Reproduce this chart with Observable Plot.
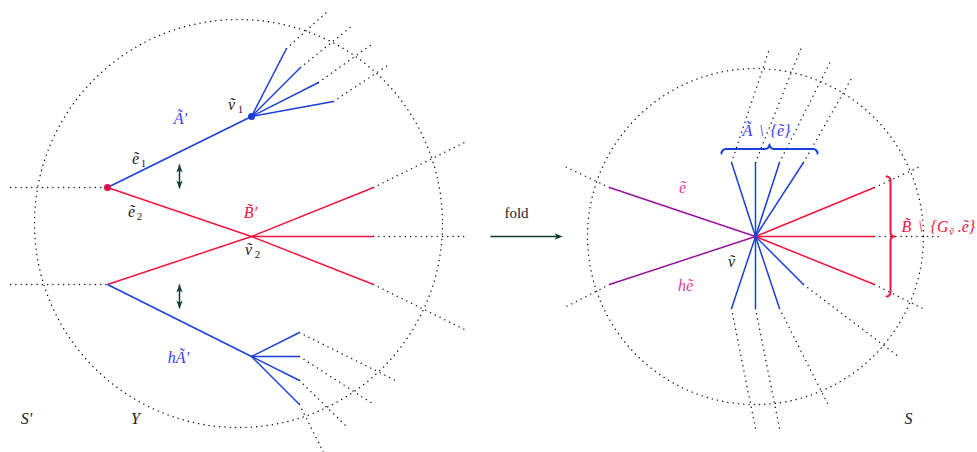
<!DOCTYPE html>
<html><head><meta charset="utf-8">
<script src="https://cdn.jsdelivr.net/npm/d3@7"></script>
<script src="https://cdn.jsdelivr.net/npm/@observablehq/plot@0.6"></script>
<style>body{margin:0;background:#fff}</style>
</head><body><div id="chart"></div>
<script>
// ---------- data (diagram coordinates) ----------
const circles = [{x:238,y:223,r:204},{x:755,y:236,r:168}];
const blueEdges = [
  [107,187,251,116],[251,116,286,48],[251,116,300,67],[251,116,318,82],[251,116,333,101],
  [107,284,251,356],[251,356,299,332],[251,356,299,356],[251,356,299,380],[251,356,299,404],
  [755,236,731,162],[755,236,755,162],[755,236,779,162],[755,236,803,162],
  [755,236,731,308],[755,236,755,308],[755,236,779,308],[755,236,803,284]
];
const redEdges = [
  [107,187,251,236],[251,236,373,284],[107,284,251,236],[251,236,373,187],[251,236,373,236],
  [755,236,874,187],[755,236,874,236],[755,236,874,284]
];
const purpleEdges = [[609,187,755,236],[609,284,755,236]];
const dottedEdges = [
  [10,187,107,187],[10,284,107,284],
  [286,48,328,10],[300,67,352,25],[318,82,371,44],[333,101,390,63],
  [373,187,468,140],[373,236,468,236],[373,284,468,331],
  [299,332,395,380],[299,356,372,403],[299,380,347,427],[299,404,323,452],
  [609,187,562,165],[609,284,562,308],
  [874,187,922,165],[874,236,940,236],[874,284,922,308],
  [731,162,769,48],[755,162,802,44],[779,162,831,59],[803,162,851,78],
  [731,308,755,428],[755,308,779,428],[779,308,827,403],[803,284,898,356]
];
const redVertices = [[107,187]];
const blueVertices = [[251,116]];
const arrows = [
  {x1:179,y1:176,x2:179,y2:164,both:true},
  {x1:179,y1:296,x2:179,y2:284,both:true},
  {x1:490,y1:236,x2:562,y2:236,both:false}
];
const braces = [
  {a:[721,153], b:[817,153], depth:9, color:"blue"},
  {a:[886,176], b:[886,296], depth:8, color:"red"}
];
const blueLabels = [
  {t:"Ã′",x:180,y:118},{t:"hÃ′",x:178,y:357},
  {t:"Ã",x:747,y:130},{t:"\\",x:761,y:130},{t:"{ẽ}",x:780,y:130}
];
const redLabels = [
  {t:"B\u0303′",x:250,y:212},
  {t:"B\u0303",x:906,y:226},{t:"\\",x:920,y:226},{t:"{G",x:939,y:226},{t:".ẽ}",x:966,y:226}
];
const redSubs = [{t:"ṽ",x:951,y:231}];
const blackLabels = [
  {t:"ṽ",x:231,y:104},{t:"ẽ",x:135,y:158},{t:"ẽ",x:131,y:211},{t:"ṽ",x:248,y:249},
  {t:"S′",x:26,y:418},{t:"Y",x:135,y:418},{t:"ṽ",x:731,y:261},{t:"S",x:908,y:418}
];
const blackSubs = [{t:"1",x:240,y:109},{t:"1",x:143,y:163},{t:"2",x:139,y:216},{t:"2",x:257,y:254}];
const magentaLabels = [{t:"ẽ",x:682,y:187},{t:"hẽ",x:685,y:285}];
const plainLabels = [{t:"fold",x:516,y:213}];

// ---------- styles ----------
const C = {blue:"#1a3fd6", blueText:"#3b3bf5", red:"#f2143e", purple:"#9a10a0",
  magenta:"#e23a9c", dark:"#0c3a33"};
const FONT = "Liberation Serif";

const seg = a => a.map(([x1,y1,x2,y2]) => ({x1,y1,x2,y2}));

function bracePts(br) {
  const [ax,ay]=br.a, [bx,by]=br.b;
  const L = Math.hypot(bx-ax,by-ay), ux=(bx-ax)/L, uy=(by-ay)/L;
  const nx=uy, ny=-ux, h=br.depth, q=h/2;
  const P=(t,n)=>({x:ax+ux*t+nx*n, y:ay+uy*t+ny*n});
  const pts=[]; const N=8;
  const arc=(ct,cn,a0,a1)=>{for(let i=0;i<=N;i++){const a=a0+(a1-a0)*i/N;pts.push(P(ct+q*Math.cos(a),cn+q*Math.sin(a)));}};
  const m=L/2;
  arc(q,0,Math.PI,Math.PI/2);
  arc(m-q,h,-Math.PI/2,0);
  arc(m+q,h,Math.PI,Math.PI*1.5);
  arc(L-q,0,Math.PI/2,0);
  return pts;
}

const stealth = {draw(ctx,size){const s=Math.sqrt(size);
  ctx.moveTo(0,0); ctx.lineTo(s*0.5,s*1.25); ctx.lineTo(0,s*0.9); ctx.lineTo(-s*0.5,s*1.25); ctx.closePath();}};

const heads=[], shafts=[];
for (const a of arrows) {
  const ang = Math.atan2(a.x2-a.x1, -(a.y2-a.y1))*180/Math.PI;
  heads.push({x:a.x2,y:a.y2,rot:ang});
  if (a.both) {
    const bx=2*a.x1-a.x2, by=2*a.y1-a.y2;
    heads.push({x:bx,y:by,rot:ang+180});
    shafts.push({x1:bx,y1:by,x2:a.x2,y2:a.y2});
  } else shafts.push({x1:a.x1,y1:a.y1,x2:a.x2-3*Math.sign(a.x2-a.x1),y2:a.y2});
}

const txt = (data, fill, size, style="italic") => Plot.text(data,{x:"x",y:"y",text:"t",fill,fontSize:size,
  fontFamily:FONT,fontStyle:style,textAnchor:"middle"});

const chart = Plot.plot({
  width:977, height:452, margin:0,
  x:{domain:[0,977],range:[0,977],axis:null},
  y:{domain:[0,452],range:[0,452],axis:null},
  r:{type:"identity"},
  style:{background:"#fff",fontFamily:FONT},
  marks:[
    Plot.dot(circles,{x:"x",y:"y",r:"r",stroke:"#111",strokeWidth:1.4,strokeDasharray:"0.1,5.2",strokeLinecap:"round",fill:"none"}),
    Plot.link(seg(dottedEdges),{x1:"x1",y1:"y1",x2:"x2",y2:"y2",stroke:"#111",strokeWidth:1.4,strokeDasharray:"0.1,5.2",strokeLinecap:"round"}),
    Plot.link(seg(purpleEdges),{x1:"x1",y1:"y1",x2:"x2",y2:"y2",stroke:C.purple,strokeWidth:1.5}),
    Plot.link(seg(redEdges),{x1:"x1",y1:"y1",x2:"x2",y2:"y2",stroke:C.red,strokeWidth:1.5}),
    Plot.link(seg(blueEdges),{x1:"x1",y1:"y1",x2:"x2",y2:"y2",stroke:C.blue,strokeWidth:1.5}),
    Plot.dot(redVertices,{x:d=>d[0],y:d=>d[1],r:3.5,fill:"#d8124a"}),
    Plot.dot(blueVertices,{x:d=>d[0],y:d=>d[1],r:3.5,fill:C.blue}),
    Plot.link(shafts,{x1:"x1",y1:"y1",x2:"x2",y2:"y2",stroke:C.dark,strokeWidth:1.5}),
    Plot.dot(heads,{x:"x",y:"y",rotate:"rot",symbol:stealth,r:3.6,fill:C.dark,stroke:"none"}),
    ...braces.map(br=>Plot.line(bracePts(br),{x:"x",y:"y",stroke:br.color==="blue"?C.blue:C.red,strokeWidth:2,curve:"linear"})),
    txt(blueLabels,C.blueText,16),
    txt(redLabels,C.red,16),
    txt(redSubs,C.red,11),
    txt(blackLabels,"#222",16),
    txt(blackSubs,"#222",11,"normal"),
    txt(magentaLabels,C.magenta,16),
    txt(plainLabels,"#222",15,"normal")
  ]
});
document.getElementById("chart").appendChild(chart);
</script></body></html>
